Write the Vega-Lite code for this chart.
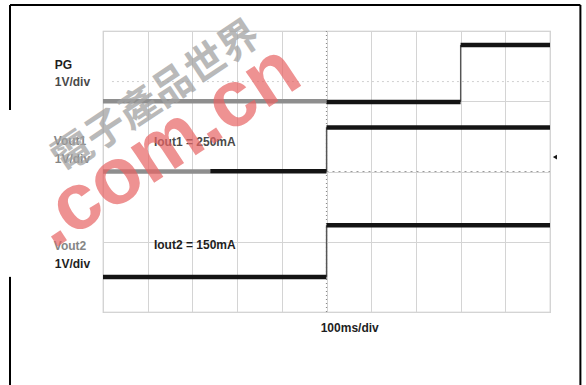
{
  "$schema": "https://vega.github.io/schema/vega-lite/v6.json",
  "width": 447,
  "height": 281,
  "autosize": {"type": "none"},
  "padding": {"left": 103, "top": 31, "right": 36, "bottom": 73},
  "background": "white",
  "config": {"view": {"stroke": "#c4c4c4", "strokeWidth": 1.2}, "font": "Liberation Sans"},
  "data": {"values": [{}]},
  "datasets": {
    "levels": [
      {"part": "PG (faded)", "t0": 0, "t1": 5, "v": 6.0},
      {"part": "PG", "t0": 5, "t1": 8, "v": 5.98},
      {"part": "PG", "t0": 8, "t1": 10, "v": 7.6},
      {"part": "Vout1 (faded)", "t0": 0, "t1": 2.4, "v": 4.0},
      {"part": "Vout1", "t0": 2.4, "t1": 5, "v": 4.01},
      {"part": "Vout1", "t0": 5, "t1": 10, "v": 5.25},
      {"part": "Vout2", "t0": 0, "t1": 5, "v": 1.0},
      {"part": "Vout2", "t0": 5, "t1": 10, "v": 2.47}
    ],
    "edges": [
      {"trace": "PG", "t": 8, "v0": 5.98, "v1": 7.6},
      {"trace": "Vout1", "t": 5, "v0": 4.01, "v1": 5.25},
      {"trace": "Vout2", "t": 5, "v0": 1.0, "v1": 2.47}
    ],
    "labels": [
      {"id": "pg", "text": "PG", "t": -1.08, "v": 7.03},
      {"id": "pgdiv", "text": "1V/div", "t": -1.08, "v": 6.55},
      {"id": "v1", "text": "Vout1", "t": -1.1, "v": 4.87},
      {"id": "v1div", "text": "1V/div", "t": -1.08, "v": 4.36},
      {"id": "v2", "text": "Vout2", "t": -1.1, "v": 1.88},
      {"id": "v2div", "text": "1V/div", "t": -1.08, "v": 1.37},
      {"id": "i1", "text": "Iout1 = 250mA", "t": 1.14, "v": 4.84},
      {"id": "i2", "text": "Iout2 = 150mA", "t": 1.14, "v": 1.91},
      {"id": "time", "text": "100ms/div", "t": 4.87, "v": -0.46}
    ]
  },
  "layer": [
    {
      "data": {"name": "levels"},
      "mark": {"type": "rule", "opacity": 0},
      "encoding": {
        "x": {"field": "t0", "type": "quantitative", "scale": {"domain": [0, 10], "nice": false, "zero": false},
          "axis": {"values": [0,1,2,3,4,5,6,7,8,9,10], "grid": true, "gridColor": "#d4d4d4", "gridWidth": 1, "labels": false, "ticks": false, "domain": false, "title": null}},
        "y": {"field": "v", "type": "quantitative", "scale": {"domain": [0, 8], "nice": false, "zero": false},
          "axis": {"values": [0,1,2,3,4,5,6,7,8], "grid": true, "gridColor": "#d4d4d4", "gridWidth": 1, "labels": false, "ticks": false, "domain": false, "title": null}}
      }
    },
    {
      "mark": {"type": "rule", "color": "#d0d0d0", "strokeDash": [2, 3], "strokeWidth": 1},
      "encoding": {"y": {"datum": 6.56}, "x": {"datum": 0.2}, "x2": {"datum": 10}}
    },
    {
      "mark": {"type": "rule", "color": "#9a9a9a", "strokeDash": [2, 4], "strokeWidth": 1},
      "encoding": {"y": {"datum": 4.0}, "x": {"datum": 5}, "x2": {"datum": 10}}
    },
    {
      "mark": {"type": "rule", "color": "#8a8a8a", "strokeDash": [1, 3], "strokeWidth": 1.2},
      "encoding": {"x": {"datum": 5}, "y": {"datum": 0}, "y2": {"datum": 8}}
    },
    {
      "data": {"name": "edges"},
      "mark": {"type": "rule", "color": "#555", "strokeWidth": 1.3},
      "encoding": {
        "x": {"field": "t", "type": "quantitative"},
        "y": {"field": "v0", "type": "quantitative"},
        "y2": {"field": "v1"}
      }
    },
    {
      "data": {"name": "levels"},
      "mark": {"type": "rule", "strokeWidth": 4.5, "strokeCap": "butt"},
      "encoding": {
        "x": {"field": "t0", "type": "quantitative"},
        "x2": {"field": "t1"},
        "y": {"field": "v", "type": "quantitative"},
        "color": {"field": "part", "type": "nominal", "legend": null,
          "scale": {"domain": ["PG (faded)", "PG", "Vout1 (faded)", "Vout1", "Vout2"],
                    "range": ["#8e8e8e", "#141414", "#8e8e8e", "#141414", "#141414"]}}
      }
    },
    {
      "mark": {"type": "point", "shape": "triangle-left", "filled": true, "color": "#111", "size": 22, "opacity": 1},
      "encoding": {"x": {"datum": 10.11}, "y": {"datum": 4.41}}
    },
    {
      "data": {"name": "labels"},
      "transform": [{"filter": "indexof(['pg','v2div','time','i2'], datum.id) >= 0"}],
      "mark": {"type": "text", "align": "left", "baseline": "middle", "fontSize": 12, "fontWeight": "bold", "color": "#1e1e1e"},
      "encoding": {"x": {"field": "t", "type": "quantitative"}, "y": {"field": "v", "type": "quantitative"}, "text": {"field": "text"}}
    },
    {
      "data": {"name": "labels"},
      "transform": [{"filter": "indexof(['pgdiv','i1'], datum.id) >= 0"}],
      "mark": {"type": "text", "align": "left", "baseline": "middle", "fontSize": 12, "fontWeight": "bold", "color": "#4a4a4a"},
      "encoding": {"x": {"field": "t", "type": "quantitative"}, "y": {"field": "v", "type": "quantitative"}, "text": {"field": "text"}}
    },
    {
      "data": {"name": "labels"},
      "transform": [{"filter": "indexof(['v1','v1div','v2'], datum.id) >= 0"}],
      "mark": {"type": "text", "align": "left", "baseline": "middle", "fontSize": 12, "fontWeight": "bold", "color": "#858585"},
      "encoding": {"x": {"field": "t", "type": "quantitative"}, "y": {"field": "v", "type": "quantitative"}, "text": {"field": "text"}}
    },
    {
      "mark": {"type": "text", "text": "電子產品世界", "font": "Noto Sans CJK TC", "fontWeight": "bold", "fontSize": 40, "angle": -33.7, "align": "center", "baseline": "middle", "color": "#a2a2a2", "opacity": 0.75},
      "encoding": {"x": {"datum": 1.2}, "y": {"datum": 6.1}}
    },
    {
      "mark": {"type": "text", "text": ".com.cn", "font": "Liberation Sans", "fontWeight": "bold", "fontSize": 80, "angle": -33.4, "align": "left", "baseline": "alphabetic", "color": "#e86464", "opacity": 0.7},
      "encoding": {"x": {"datum": -1.12}, "y": {"datum": 1.78}}
    },
    {
      "mark": {"type": "rule", "color": "#000", "strokeWidth": 2},
      "encoding": {"x": {"datum": -2.08}, "x2": {"datum": 10.68}, "y": {"datum": 8.74}}
    },
    {
      "mark": {"type": "rule", "color": "#000", "strokeWidth": 2},
      "encoding": {"x": {"datum": -2.08}, "y": {"datum": 8.74}, "y2": {"datum": 5.75}}
    },
    {
      "mark": {"type": "rule", "color": "#000", "strokeWidth": 2},
      "encoding": {"x": {"datum": -2.08}, "y": {"datum": 1.0}, "y2": {"datum": -2.3}}
    },
    {
      "mark": {"type": "rule", "color": "#000", "strokeWidth": 2},
      "encoding": {"x": {"datum": 10.68}, "y": {"datum": 8.74}, "y2": {"datum": -2.3}}
    }
  ]
}
